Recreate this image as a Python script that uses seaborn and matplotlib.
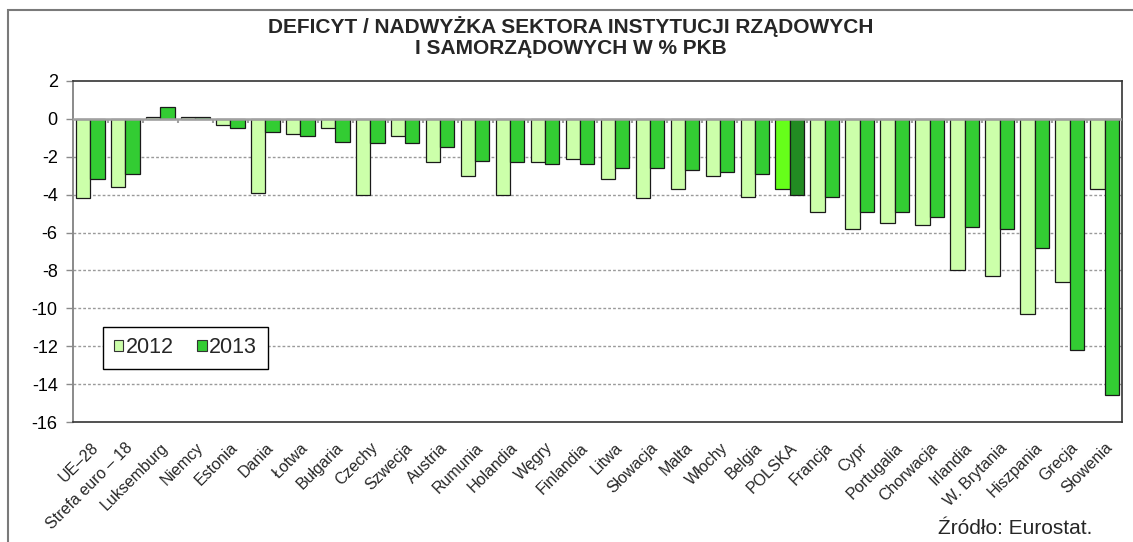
import numpy as np
import pandas as pd
import matplotlib
matplotlib.use("Agg")
import matplotlib.pyplot as plt
from matplotlib.patches import Patch, Rectangle
import seaborn as sns

# General government deficit / surplus, % of GDP
countries = ["UE–28", "Strefa euro – 18", "Luksemburg", "Niemcy", "Estonia", "Dania",
             "Łotwa", "Bułgaria", "Czechy", "Szwecja", "Austria", "Rumunia", "Holandia",
             "Węgry", "Finlandia", "Litwa", "Słowacja", "Malta", "Włochy", "Belgia",
             "POLSKA", "Francja", "Cypr", "Portugalia", "Chorwacja", "Irlandia",
             "W. Brytania", "Hiszpania", "Grecja", "Słowenia"]
values_2012 = [-4.2, -3.6, 0.1, 0.1, -0.3, -3.9, -0.8, -0.5, -4.0, -0.9, -2.3, -3.0, -4.0,
               -2.3, -2.1, -3.2, -4.2, -3.7, -3.0, -4.1, -3.7, -4.9, -5.8, -5.5, -5.6,
               -8.0, -8.3, -10.3, -8.6, -3.7]
values_2013 = [-3.2, -2.9, 0.6, 0.1, -0.5, -0.7, -0.9, -1.2, -1.3, -1.3, -1.5, -2.2, -2.3,
               -2.4, -2.4, -2.6, -2.6, -2.7, -2.8, -2.9, -4.0, -4.1, -4.9, -4.9, -5.2,
               -5.7, -5.8, -6.8, -12.2, -14.6]
years = ["2012", "2013"]
highlight = "POLSKA"

col_2012 = "#CCFFAA"
col_2013 = "#33CC33"
col_hl_2012 = "#66FF1A"
col_hl_2013 = "#228B22"

df = pd.DataFrame({
    "kraj": countries * 2,
    "rok": [years[0]] * len(countries) + [years[1]] * len(countries),
    "wartosc": values_2012 + values_2013,
})

sns.set_style("white")
plt.rcParams["font.family"] = ["Liberation Sans", "DejaVu Sans"]
plt.rcParams["axes.unicode_minus"] = False

fig = plt.figure(figsize=(11.33, 5.42), dpi=100)
ax = fig.add_axes([0.0644, 0.2214, 0.9259, 0.6292])

sns.barplot(data=df, x="kraj", y="wartosc", hue="rok", order=countries,
            hue_order=years, palette=[col_2012, col_2013], saturation=1, width=0.82,
            edgecolor="#1a1a1a", linewidth=0.9, errorbar=None, legend=False, ax=ax)

# highlight Poland
hl_idx = countries.index(highlight)
ax.containers[0][hl_idx].set_facecolor(col_hl_2012)
ax.containers[1][hl_idx].set_facecolor(col_hl_2013)

ax.set_ylim(-16, 2)
ax.set_xlim(-0.5, len(countries) - 0.5)
ax.set_yticks(np.arange(-16, 3, 2))
ax.set_xlabel("")
ax.set_ylabel("")

# gridlines
for yv in np.arange(-14, 2, 2):
    if yv == 0:
        continue
    ax.axhline(yv, color="#9a9a9a", lw=1.0, ls=(0, (2, 1.5)), zorder=0)
ax.axhline(0, color="#a0a0a0", lw=1.8, zorder=3)

# category separators on the zero line
ax.vlines(np.arange(len(countries) - 1) + 0.5, -0.2, 0, color="#a0a0a0", lw=1.5, zorder=3)

# spines
for side in ["top", "right", "bottom"]:
    ax.spines[side].set_visible(True)
    ax.spines[side].set_color("#333333")
    ax.spines[side].set_linewidth(1.2)
ax.spines["left"].set_color("#8a8a8a")
ax.spines["left"].set_linewidth(1.4)

ax.tick_params(axis="y", which="major", left=True, length=5, width=1, color="#8a8a8a",
               labelsize=13, pad=6, labelcolor="black")
ax.tick_params(axis="x", which="major", bottom=False, length=0, labelsize=11.5, pad=13)
plt.setp(ax.get_xticklabels(), rotation=45, ha="right", va="top", rotation_mode="anchor")

# legend
handles = [Patch(facecolor=col_2012, edgecolor="#333333", lw=0.8, label=years[0]),
           Patch(facecolor=col_2013, edgecolor="#333333", lw=0.8, label=years[1])]
leg = ax.legend(handles=handles, loc="lower left", bbox_to_anchor=(0.0286, 0.155),
                borderaxespad=0, ncol=2, fontsize=15.5, frameon=True, fancybox=False,
                handlelength=0.45, handleheight=0.45, handletextpad=0.1, columnspacing=1.1,
                borderpad=0.5)
leg.get_frame().set_edgecolor("black")
leg.get_frame().set_linewidth(1.0)
leg.get_frame().set_alpha(1)

# title
fig.text(0.504, 0.932, "DEFICYT / NADWYŻKA SEKTORA INSTYTUCJI RZĄDOWYCH\nI SAMORZĄDOWYCH W % PKB",
         ha="center", va="center", fontsize=15, fontweight="bold", linespacing=1.1)

# source
fig.text(0.964, 0.024, "Źródło: Eurostat.", ha="right", va="center", fontsize=15)

# outer frame
fig.patches.append(Rectangle((8 / 1133, -0.1), 1.2, 1.1 - 10 / 542, transform=fig.transFigure,
                             fill=False, edgecolor="#7a7a7a", lw=1.5))

fig.savefig("out.png", dpi=100)
